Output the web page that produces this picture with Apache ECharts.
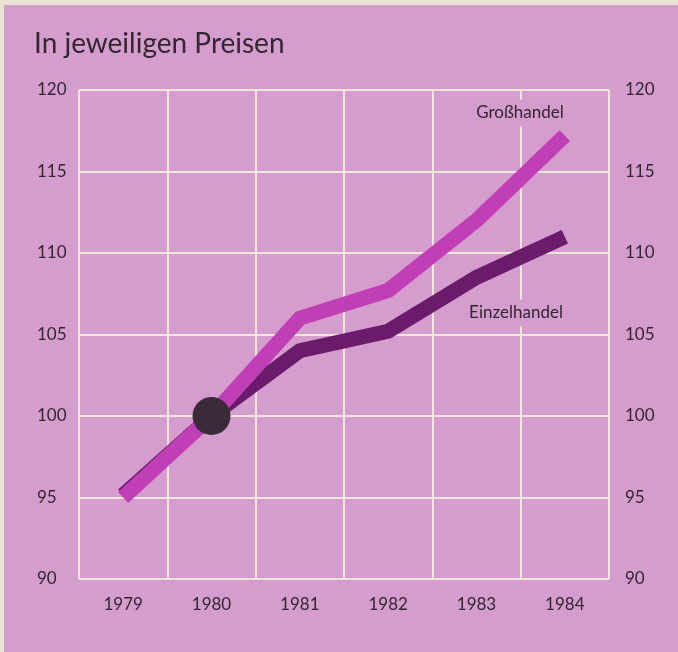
<!DOCTYPE html>
<html>
<head>
<meta charset="utf-8">
<script src="https://cdn.jsdelivr.net/npm/echarts@6/dist/echarts.min.js"></script>
<style>
    html, body { margin: 0; padding: 0; background: #ece3d6; }
    #chart { width: 678px; height: 652px; }
</style>
</head>
<body>
<div id="chart"></div>
<script>
// Daten ==============================
var years = ['1979', '1980', '1981', '1982', '1983', '1984'];
var grosshandel = [95, 100, 106, 107.7, 112, 117.2];
var einzelhandel = [95.15, 100, 104, 105.2, 108.5, 111];
var markerPoint = ['1980', 100]; // Basisjahr 1980 = 100
var yTicks = [90, 95, 100, 105, 110, 115, 120];

var pink = '#d59dce';
var gridColor = '#f1e6dc';
var textColor = '#33262f';

var myChart = echarts.init(document.getElementById('chart'));
var option = {
    backgroundColor: '#ece3d6',
    animation: false,
    textStyle: { fontFamily: 'Lato' },
    graphic: [
        {
            type: 'rect', z: -10, silent: true,
            shape: { x: 4, y: 5, width: 674, height: 647 },
            style: { fill: pink }
        },
        {
            type: 'text', left: 34, top: 30,
            style: { text: 'In jeweiligen Preisen', fontSize: 28, fontWeight: 'normal', fontFamily: 'Lato', fill: textColor }
        },
        {
            type: 'text', x: 520, y: 113, z: 10,
            style: {
                text: 'Großhandel', fontSize: 17, fontWeight: 'normal', fontFamily: 'Lato', fill: textColor,
                align: 'center', verticalAlign: 'middle', backgroundColor: pink, padding: [5, 4]
            }
        },
        {
            type: 'text', x: 516, y: 313, z: 10,
            style: {
                text: 'Einzelhandel', fontSize: 17, fontWeight: 'normal', fontFamily: 'Lato', fill: textColor,
                align: 'center', verticalAlign: 'middle', backgroundColor: pink, padding: [5, 4]
            }
        }
    ],
    grid: { left: 79, right: 69, top: 90, bottom: 73 },
    xAxis: {
        type: 'category',
        data: years,
        boundaryGap: true,
        axisLine: { show: false },
        axisTick: { show: false },
        axisLabel: { color: textColor, fontSize: 17, margin: 17 },
        splitLine: { show: true, lineStyle: { color: gridColor, width: 2 } }
    },
    yAxis: [
        {
            type: 'value', min: yTicks[0], max: yTicks[yTicks.length - 1], interval: 5,
            position: 'left',
            axisLine: { show: false },
            axisTick: { show: false },
            axisLabel: { color: textColor, fontSize: 17, align: 'left', margin: 42 },
            splitLine: { show: true, lineStyle: { color: gridColor, width: 2 } }
        },
        {
            type: 'value', min: yTicks[0], max: yTicks[yTicks.length - 1], interval: 5,
            position: 'right',
            axisLine: { show: false },
            axisTick: { show: false },
            axisLabel: { color: textColor, fontSize: 17, align: 'left', margin: 16 },
            splitLine: { show: false }
        }
    ],
    series: [
        {
            name: 'Einzelhandel',
            type: 'line',
            data: einzelhandel,
            symbol: 'none',
            lineStyle: { color: '#6c1b6c', width: 15, cap: 'butt', join: 'miter' }
        },
        {
            name: 'Großhandel',
            type: 'line',
            data: grosshandel,
            symbol: 'none',
            lineStyle: { color: '#c03fb6', width: 15, cap: 'butt', join: 'miter' }
        },
        {
            name: 'Basis',
            type: 'scatter',
            data: [markerPoint],
            symbol: 'circle',
            symbolSize: 38,
            itemStyle: { color: '#3b2a38', opacity: 1 },
            z: 5
        }
    ]
};
myChart.setOption(option);
</script>
</body>
</html>
